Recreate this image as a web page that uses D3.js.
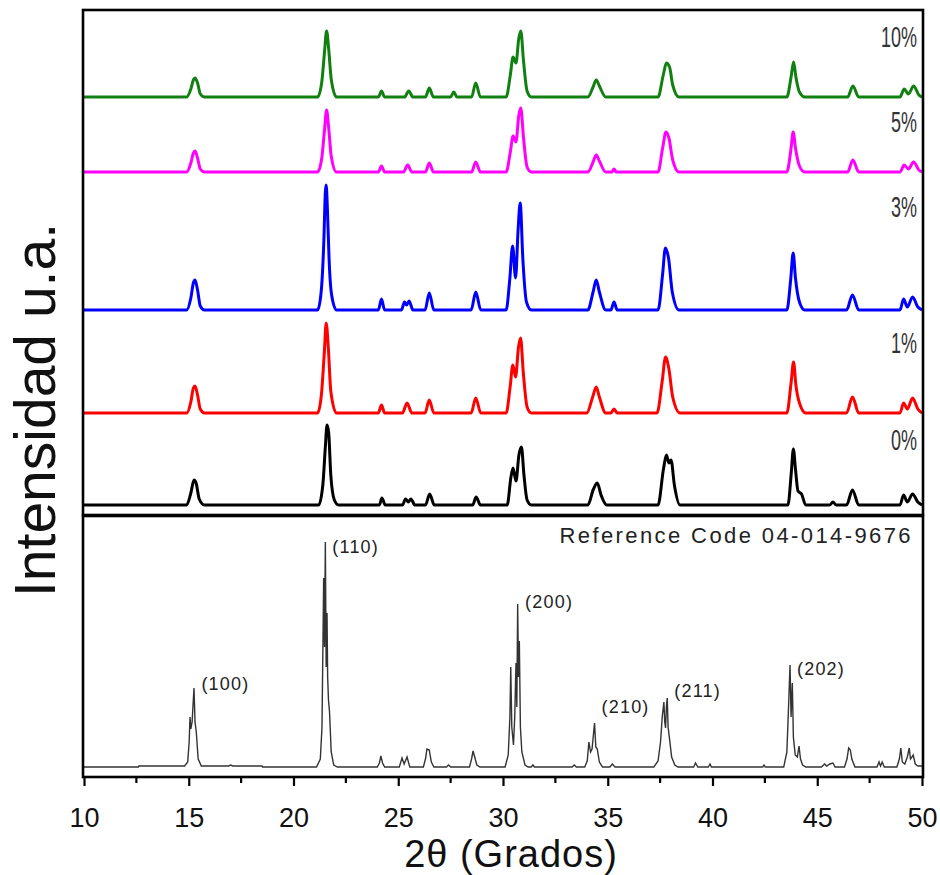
<!DOCTYPE html>
<html>
<head>
<meta charset="utf-8">
<script src="https://cdn.jsdelivr.net/npm/d3@7"></script>
<style>
  body { margin: 0; background: #fff; }
  svg { display: block; font-family: 'Liberation Sans', Arial, sans-serif; }
</style>
</head>
<body>
<svg id="chart" width="940" height="875"></svg>
<script>
// samples, bottom to top in the stack
const samples = ['0%', '1%', '3%', '5%', '10%'];
const colors = ['#000000', '#ff0000', '#0000ff', '#ff00ff', '#108010'];
// baseline of each pattern in the stacked plot (a.u.)
const offsets = [10, 102, 205, 343, 418];

// [2theta, intensity above own baseline]
const pattern0 = [[10,0],[14.9,0],[15.1,12],[15.25,25],[15.35,22],[15.5,6],[15.75,0],
  [21.2,0],[21.4,20],[21.52,58],[21.6,80],[21.68,72],[21.78,30],[21.95,5],[22.15,0],
  [24.1,0],[24.22,7],[24.38,0],[25.2,0],[25.35,6],[25.48,3],[25.6,6],[25.8,0],
  [26.3,0],[26.5,11],[26.72,0],[28.55,0],[28.72,8],[28.92,0],
  [30.2,0],[30.38,28],[30.48,37],[30.62,24],[30.76,50],[30.88,58],[31.0,30],[31.15,5],[31.35,0],
  [34.05,0],[34.32,16],[34.5,22],[34.68,10],[34.95,0],
  [37.4,0],[37.66,36],[37.8,50],[37.92,42],[38.02,45],[38.18,20],[38.45,0],
  [43.6,0],[43.76,32],[43.86,56],[43.96,36],[44.08,14],[44.25,11],[44.45,0],
  [45.6,0],[45.75,3],[45.9,0],[46.4,0],[46.68,15],[46.98,0],
  [48.95,0],[49.12,10],[49.3,3],[49.55,11],[49.8,3],[50,0]];

const pattern1 = [[10,0],[14.9,0],[15.1,11],[15.22,25],[15.3,27],[15.42,18],[15.55,4],[15.75,0],
  [21.15,0],[21.33,18],[21.47,60],[21.56,90],[21.66,66],[21.78,22],[22.05,0],
  [24.05,0],[24.2,8],[24.35,0],[25.2,0],[25.42,10],[25.65,0],
  [26.28,0],[26.48,13],[26.7,0],[28.48,0],[28.7,15],[28.94,0],
  [30.15,0],[30.34,26],[30.47,48],[30.6,36],[30.74,66],[30.84,75],[30.97,40],[31.15,6],[31.35,0],
  [34.0,0],[34.28,16],[34.45,26],[34.6,16],[34.9,0],[35.15,0],[35.3,4],[35.45,0],
  [37.35,0],[37.6,32],[37.76,56],[37.92,44],[38.1,16],[38.45,0],
  [43.55,0],[43.75,30],[43.87,51],[43.98,28],[44.15,10],[44.45,0],
  [46.4,0],[46.68,16],[46.98,0],
  [48.95,0],[49.12,10],[49.3,4],[49.55,15],[49.8,4],[50,0]];

const pattern3 = [[10,0],[14.9,0],[15.1,12],[15.22,27],[15.3,30],[15.42,20],[15.55,4],[15.75,0],
  [21.15,0],[21.32,18],[21.45,70],[21.52,118],[21.56,125],[21.62,100],[21.7,50],[21.82,15],[22.05,0],
  [24.05,0],[24.2,11],[24.35,0],[25.15,0],[25.3,8],[25.4,5],[25.52,9],[25.7,0],
  [26.28,0],[26.48,17],[26.7,0],[28.48,0],[28.7,18],[28.94,0],
  [30.15,0],[30.32,30],[30.46,64],[30.6,32],[30.72,80],[30.82,107],[30.95,50],[31.12,8],[31.35,0],
  [34.05,0],[34.3,18],[34.45,30],[34.6,18],[34.9,0],[35.15,0],[35.3,8],[35.45,0],
  [37.4,0],[37.62,36],[37.75,62],[37.9,52],[38.08,18],[38.4,0],
  [43.55,0],[43.73,30],[43.85,57],[43.96,32],[44.15,8],[44.4,0],
  [46.4,0],[46.68,15],[46.98,0],
  [48.95,0],[49.12,11],[49.3,3],[49.55,13],[49.8,3],[50,0]];

const pattern5 = [[10,0],[14.9,0],[15.1,9],[15.22,19],[15.3,21],[15.42,14],[15.55,3],[15.75,0],
  [21.15,0],[21.35,14],[21.48,42],[21.58,62],[21.68,44],[21.8,16],[22.05,0],
  [24.05,0],[24.2,6],[24.35,0],[25.25,0],[25.45,7],[25.65,0],
  [26.3,0],[26.48,9],[26.68,0],[28.5,0],[28.7,10],[28.92,0],
  [30.15,0],[30.35,20],[30.48,36],[30.62,30],[30.75,56],[30.85,64],[30.98,34],[31.15,5],[31.35,0],
  [34.05,0],[34.3,10],[34.45,17],[34.6,11],[34.9,0],[35.2,0],[35.3,3],[35.4,0],
  [37.4,0],[37.62,24],[37.78,40],[37.92,34],[38.1,12],[38.4,0],
  [43.55,0],[43.74,22],[43.85,40],[43.96,24],[44.15,6],[44.4,0],
  [46.45,0],[46.7,12],[46.98,0],
  [48.95,0],[49.15,7],[49.35,3],[49.6,10],[49.85,2],[50,0]];

const pattern10 = [[10,0],[14.9,0],[15.1,8],[15.22,17],[15.3,19],[15.42,14],[15.55,3],[15.75,0],
  [21.15,0],[21.35,15],[21.48,45],[21.58,66],[21.68,48],[21.8,18],[22.05,0],
  [24.05,0],[24.2,6],[24.35,0],[25.3,0],[25.5,6],[25.7,0],
  [26.3,0],[26.48,9],[26.68,0],[27.5,0],[27.65,5],[27.8,0],[28.5,0],[28.7,14],[28.92,0],
  [30.15,0],[30.35,22],[30.48,40],[30.62,34],[30.75,58],[30.85,66],[30.98,36],[31.15,6],[31.35,0],
  [34.05,0],[34.3,10],[34.45,17],[34.6,11],[34.9,0],
  [37.4,0],[37.65,22],[37.8,34],[37.95,30],[38.1,12],[38.4,0],
  [43.55,0],[43.75,20],[43.87,35],[43.98,20],[44.15,5],[44.4,0],
  [46.45,0],[46.7,11],[46.98,0],
  [48.95,0],[49.15,8],[49.35,3],[49.6,11],[49.85,2],[50,0]];

const patterns = [pattern0, pattern1, pattern3, pattern5, pattern10];

// reference pattern 04-014-9676
const refPattern = [[10,0],[12.6,0],[12.62,1],[14.8,1],[14.95,5],[15.02,25],[15.06,50],[15.1,38],
  [15.16,45],[15.25,79],[15.3,45],[15.36,35],[15.45,8],[15.6,1],[16.9,1],[17.0,2],[17.1,1],
  [18.5,1],[18.52,0],[21.1,0],[21.28,8],[21.36,40],[21.42,150],[21.44,189],[21.48,120],[21.52,225],
  [21.56,100],[21.6,154],[21.63,90],[21.67,67],[21.72,55],[21.8,15],[21.92,2],[22.1,0],
  [24.0,0],[24.1,4],[24.17,11],[24.25,4],[24.35,0],
  [25.05,0],[25.18,9],[25.28,3],[25.42,10],[25.55,0],
  [26.2,0],[26.3,8],[26.37,18],[26.48,17],[26.58,5],[26.7,0],
  [27.3,0],[27.4,2],[27.5,0],[28.4,0],[28.5,8],[28.57,16],[28.65,10],[28.75,2],[28.9,0],
  [30.1,0],[30.25,12],[30.33,50],[30.37,100],[30.42,40],[30.5,22],[30.56,50],[30.62,104],
  [30.66,60],[30.7,163],[30.74,90],[30.78,126],[30.83,40],[30.9,15],[31.05,2],[31.2,0],
  [31.35,0],[31.43,2],[31.5,0],[33.3,0],[33.4,2],[33.5,0],
  [33.9,0],[34.02,6],[34.1,25],[34.18,15],[34.25,18],[34.37,44],[34.43,20],[34.5,18],[34.6,5],[34.75,0],
  [35.1,0],[35.22,3],[35.35,0],
  [37.2,0],[37.4,6],[37.52,25],[37.6,50],[37.68,65],[37.72,45],[37.76,39],[37.8,60],[37.84,69],
  [37.88,40],[37.95,28],[38.05,10],[38.2,2],[38.35,0],
  [39.1,0],[39.19,4],[39.3,0],[39.8,0],[39.88,3],[39.95,0],[42.4,0],[42.46,2],[42.52,0],
  [43.4,0],[43.55,15],[43.63,60],[43.7,102],[43.75,50],[43.81,84],[43.86,30],[43.95,12],
  [44.05,10],[44.13,21],[44.2,8],[44.3,2],[44.45,0],
  [45.2,0],[45.35,3],[45.45,1],[45.6,3],[45.75,4],[45.85,0],
  [46.3,0],[46.42,8],[46.5,19],[46.58,17],[46.65,8],[46.8,0],
  [47.85,0],[47.95,5],[48.02,1],[48.1,5],[48.2,0],
  [48.8,0],[48.92,8],[48.99,19],[49.06,5],[49.18,3],[49.3,10],[49.39,19],[49.45,8],
  [49.52,10],[49.58,12],[49.68,3],[49.8,1],[50,1]];

// Miller indices: peak position and label height
const hklLabels = [
  { hkl: '(100)', pos: 15.27, level: 77 },
  { hkl: '(110)', pos: 21.52, level: 214 },
  { hkl: '(200)', pos: 30.72, level: 159 },
  { hkl: '(210)', pos: 34.37, level: 54 },
  { hkl: '(211)', pos: 37.84, level: 70 },
  { hkl: '(202)', pos: 43.7, level: 92 }
];

const xTicks = [10, 15, 20, 25, 30, 35, 40, 45, 50];
const xMinorTicks = [12.5, 17.5, 22.5, 27.5, 32.5, 37.5, 42.5, 47.5];

// ---------------------------------------------------------------
const svg = d3.select('#chart');
const left = 84;
const right = 922;
const topPanel = { top: 10, bottom: 515 };
const refPanel = { top: 516, bottom: 777 };

const x = d3.scaleLinear().domain([10, 50]).range([left, right]);
const yTop = d3.scaleLinear().domain([0, 505]).range([topPanel.bottom, topPanel.top]);
const yRef = d3.scaleLinear().domain([-10, 251]).range([refPanel.bottom, refPanel.top]);

// stacked patterns
const stack = svg.append('g').attr('class', 'stack');
patterns.forEach((pts, i) => {
  const line = d3.line()
    .curve(d3.curveMonotoneX)
    .x(d => x(d[0]))
    .y(d => yTop(d[1] + offsets[i]));
  stack.append('path')
    .datum(pts)
    .attr('d', line)
    .attr('fill', 'none')
    .attr('stroke', colors[i])
    .attr('stroke-width', 3)
    .attr('stroke-linejoin', 'round');
});

// sample labels, narrow font
const labelLevel = [55, 60, 93, 40, 50];
samples.forEach((s, i) => {
  svg.append('text')
    .attr('transform', `translate(${x(50) - 5}, ${yTop(offsets[i] + labelLevel[i])}) scale(0.6, 1)`)
    .attr('text-anchor', 'end')
    .attr('font-size', 30)
    .attr('fill', '#333')
    .text(s);
});

// reference pattern
const refLine = d3.line().x(d => x(d[0])).y(d => yRef(d[1]));
svg.append('path')
  .datum(refPattern)
  .attr('d', refLine)
  .attr('fill', 'none')
  .attr('stroke', '#333')
  .attr('stroke-width', 1.4);

svg.selectAll('.hkl')
  .data(hklLabels)
  .enter()
  .append('text')
  .attr('class', 'hkl')
  .attr('x', d => x(d.pos) + 7)
  .attr('y', d => yRef(d.level))
  .attr('font-size', 18)
  .attr('letter-spacing', 1.2)
  .attr('fill', '#222')
  .text(d => d.hkl);

svg.append('text')
  .attr('x', 913)
  .attr('y', 543)
  .attr('text-anchor', 'end')
  .attr('font-size', 22)
  .attr('letter-spacing', 2.4)
  .attr('fill', '#222')
  .text('Reference Code 04-014-9676');

// frames
[topPanel, refPanel].forEach(p => {
  svg.append('rect')
    .attr('x', left - 1)
    .attr('y', p.top)
    .attr('width', right - left + 2)
    .attr('height', p.bottom - p.top)
    .attr('fill', 'none')
    .attr('stroke', '#000')
    .attr('stroke-width', 2.6);
});

// x axis
const axis = svg.append('g')
  .attr('transform', `translate(0, ${refPanel.bottom})`)
  .call(d3.axisBottom(x).tickValues(xTicks).tickSizeInner(9).tickSizeOuter(0).tickPadding(22));
axis.select('.domain').remove();
axis.selectAll('.tick line').attr('stroke-width', 2.2);
axis.selectAll('.tick text')
  .attr('font-size', 27)
  .attr('font-family', "'Liberation Sans', Arial, sans-serif")
  .attr('fill', '#111');

axis.selectAll('.minor')
  .data(xMinorTicks)
  .enter()
  .append('line')
  .attr('class', 'minor')
  .attr('x1', d => x(d))
  .attr('x2', d => x(d))
  .attr('y1', 0)
  .attr('y2', 6)
  .attr('stroke', '#000')
  .attr('stroke-width', 2.2);

// axis titles
svg.append('text')
  .attr('x', 511)
  .attr('y', 867)
  .attr('text-anchor', 'middle')
  .attr('font-size', 38)
  .attr('letter-spacing', 1)
  .attr('fill', '#111')
  .text('2θ (Grados)');

svg.append('text')
  .attr('transform', 'translate(55, 410) rotate(-90)')
  .attr('text-anchor', 'middle')
  .attr('font-size', 57)
  .attr('fill', '#111')
  .text('Intensidad u.a.');
</script>
</body>
</html>
